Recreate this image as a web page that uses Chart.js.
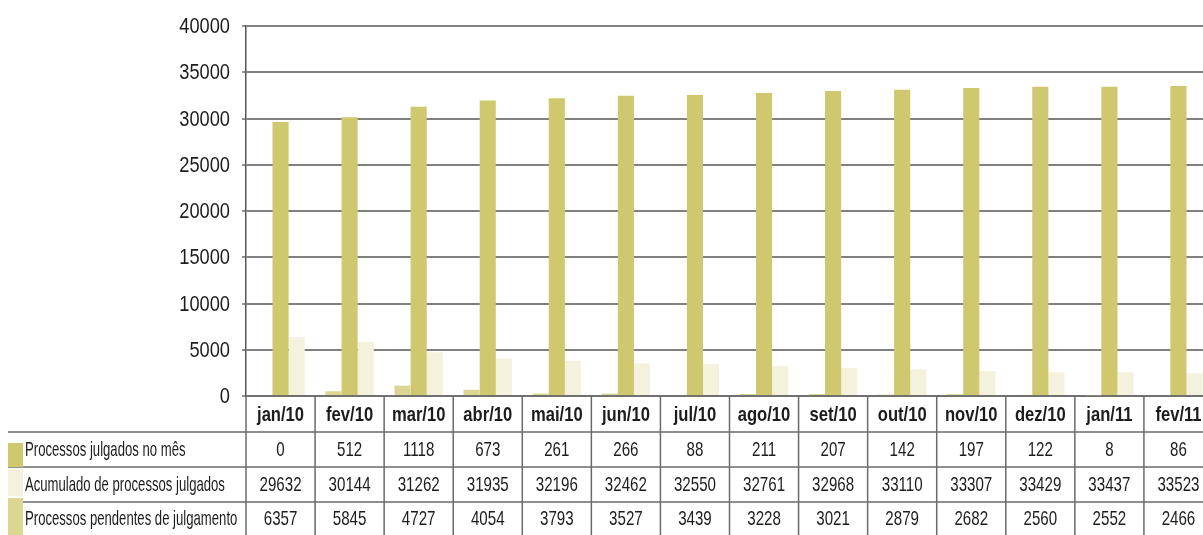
<!DOCTYPE html>
<html>
<head>
<meta charset="utf-8">
<script src="https://cdn.jsdelivr.net/npm/chart.js@4.4.1/dist/chart.umd.min.js"></script>
<style>
  html, body { margin: 0; padding: 0; background: #fff; overflow: hidden; }
  #wrap { width: 1213px; height: 535px; }
</style>
</head>
<body>
<div id="wrap"><canvas id="chart" width="1213" height="535"></canvas></div>
<script>
const MONTHS = ["jan/10", "fev/10", "mar/10", "abr/10", "mai/10", "jun/10", "jul/10",
  "ago/10", "set/10", "out/10", "nov/10", "dez/10", "jan/11", "fev/11"];
const JULGADOS_MES = [0, 512, 1118, 673, 261, 266, 88, 211, 207, 142, 197, 122, 8, 86];
const ACUMULADO = [29632, 30144, 31262, 31935, 32196, 32462, 32550, 32761, 32968, 33110, 33307, 33429, 33437, 33523];
const PENDENTES = [6357, 5845, 4727, 4054, 3793, 3527, 3439, 3228, 3021, 2879, 2682, 2560, 2552, 2466];
const Y_TICKS = [0, 5000, 10000, 15000, 20000, 25000, 30000, 35000, 40000];

const ROW_LABELS = ["Processos julgados no mês", "Acumulado de processos julgados", "Processos pendentes de julgamento"];
const SWATCHES = ["#cfc86e", "#f4f1dc", "#dbd793"];

const FONT = "'Liberation Sans', Arial, sans-serif";
const TEXT = "#1e1b1c";

// condensed text: Liberation Sans squeezed horizontally
function narrowText(ctx, text, x, y, align, squeeze) {
  ctx.save();
  ctx.translate(x, y);
  ctx.scale(squeeze, 1);
  ctx.textAlign = align;
  ctx.fillText(text, 0, 0);
  ctx.restore();
}

// draws y labels and the data table under the plot, aligned on the scales
const tablePlugin = {
  id: "table",
  afterDraw(chart) {
    const ctx = chart.ctx;
    const x = chart.scales.x;
    const y = chart.scales.y;
    const step = x.getPixelForValue(1) - x.getPixelForValue(0);
    const left = x.getPixelForValue(0) - step / 2;
    const right = chart.width;
    const rows = [396, 432, 467, 502, 535];
    const data = [JULGADOS_MES, ACUMULADO, PENDENTES];

    ctx.save();
    ctx.fillStyle = TEXT;
    ctx.textBaseline = "middle";
    ctx.font = "22px " + FONT;
    Y_TICKS.forEach((v) => {
      narrowText(ctx, String(v), 230, y.getPixelForValue(v) + 1, "right", 0.83);
    });

    ctx.strokeStyle = "#6b6b6b";
    ctx.lineWidth = 1.5;
    ctx.beginPath();
    ctx.moveTo(left, rows[0]); ctx.lineTo(right, rows[0]);
    for (let r = 1; r < 4; r++) {
      ctx.moveTo(8, rows[r]); ctx.lineTo(right, rows[r]);
    }
    for (let i = 0; i <= MONTHS.length; i++) {
      const px = left + i * step;
      ctx.moveTo(px, rows[0]); ctx.lineTo(px, rows[4]);
    }
    ctx.stroke();

    // legend swatches
    const sw = [[443, 467], [469, 496], [498, 535]];
    sw.forEach((s, i) => {
      ctx.fillStyle = SWATCHES[i];
      ctx.fillRect(8, s[0], 15, s[1] - s[0]);
    });

    ctx.fillStyle = TEXT;
    ctx.font = "21px " + FONT;
    ROW_LABELS.forEach((lab, i) => {
      narrowText(ctx, lab, 25, (rows[i + 1] + rows[i + 2]) / 2 + 1, "left", 0.625);
    });

    ctx.font = "bold 21px " + FONT;
    MONTHS.forEach((m, i) => {
      narrowText(ctx, m, x.getPixelForValue(i), (rows[0] + rows[1]) / 2 + 1, "center", 0.79);
    });
    ctx.font = "21px " + FONT;
    data.forEach((series, r) => {
      series.forEach((v, i) => {
        narrowText(ctx, String(v), x.getPixelForValue(i), (rows[r + 1] + rows[r + 2]) / 2 + 1, "center", 0.72);
      });
    });
    ctx.restore();
  }
};

const ctx = document.getElementById("chart").getContext("2d");
new Chart(ctx, {
  type: "bar",
  data: {
    labels: MONTHS,
    datasets: [
      { label: ROW_LABELS[0], data: JULGADOS_MES, backgroundColor: "#dbd793" },
      { label: ROW_LABELS[1], data: ACUMULADO, backgroundColor: "#cfc86e" },
      { label: ROW_LABELS[2], data: PENDENTES, backgroundColor: "#f4f1dc" },
    ],
  },
  options: {
    responsive: false,
    animation: false,
    layout: { padding: { top: 26, bottom: 139, left: 0, right: 0 } },
    datasets: { bar: { categoryPercentage: 0.7, barPercentage: 1.0 } },
    scales: {
      x: { display: false },
      y: {
        min: 0,
        max: 40000,
        afterFit: (scale) => { scale.width = 246; },
        ticks: { stepSize: 5000, display: false },
        grid: { color: "#808080", lineWidth: 2, tickLength: 4, tickColor: "#6b6b6b", tickWidth: 1.5 },
        border: { display: true, color: "#555", width: 1.5 },
      },
    },
    plugins: {
      legend: { display: false },
      tooltip: { enabled: false },
    },
  },
  plugins: [tablePlugin],
});
</script>
</body>
</html>
